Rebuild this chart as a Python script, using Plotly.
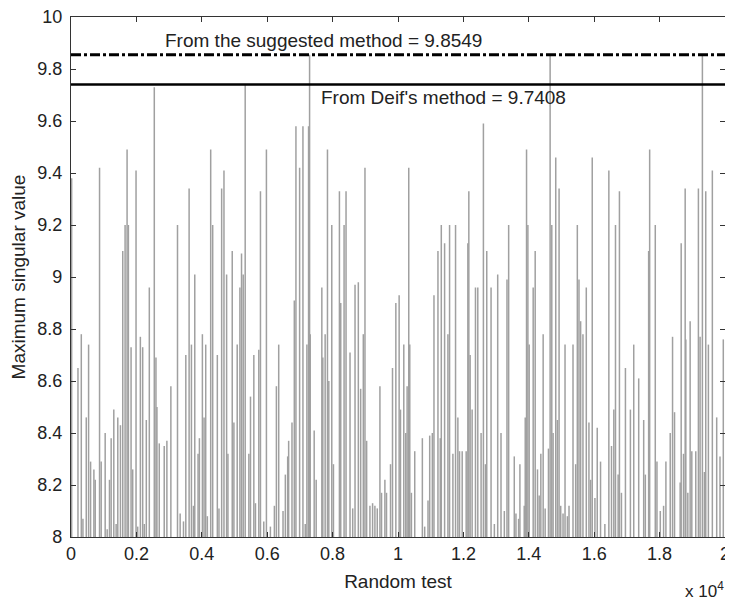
import plotly.graph_objects as go

# Random test index (x) and maximum singular value (y) of the visible spikes
test_index = [
    20, 213, 315, 365, 467, 538, 599, 700, 741, 873, 923, 1045, 1106, 1177, 1228, 1309,
    1380, 1431, 1512, 1583, 1654, 1715, 1755, 1837, 1887, 1989, 2039, 2121, 2192, 2242,
    2303, 2395, 2547, 2598, 2628, 2699, 2851, 2932, 3054, 3257,
    3338, 3440, 3511, 3612, 3683, 3744, 3785, 3886, 3927, 4018, 4069, 4120, 4170, 4272,
    4333, 4475, 4525, 4607, 4678, 4759, 4799, 4931, 4982, 5083, 5165, 5215, 5266, 5327,
    5439, 5489, 5591, 5641, 5743, 5794, 5895, 5976, 6098, 6220, 6281, 6352, 6484, 6555, 6626,
    6656, 6758, 6829, 6879, 6991, 7093, 7163, 7214, 7265, 7296, 7316, 7437, 7498, 7671,
    7701, 7772, 7843, 7884, 7975, 8026, 8209, 8249, 8351, 8411, 8533, 8615, 8686, 8787,
    8858, 8939, 8990, 9041, 9142, 9223, 9294, 9366, 9447, 9497, 9599, 9649, 9771, 9832, 9934,
    10035, 10076, 10177, 10238, 10279, 10329, 10360, 10410, 10512, 10745, 10816, 10918,
    10969, 11050, 11100, 11222, 11293, 11324, 11425, 11527, 11577, 11679, 11760, 11831,
    11882, 11963, 12085, 12136, 12166, 12206, 12267, 12369, 12440, 12541, 12612, 12673,
    12714, 12846, 12947, 13049, 13150, 13252,
    13333, 13384, 13556, 13607, 13688, 13728, 13860, 13891, 13931, 13972, 14012, 14134,
    14195, 14266, 14317, 14368, 14439, 14500, 14601, 14652, 14703, 14743, 14824, 14875,
    14926, 14976, 15047, 15108, 15180, 15230, 15352, 15433, 15484, 15535, 15585, 15656,
    15758, 15839, 15890, 15940, 16022, 16093, 16194, 16326, 16448, 16529, 16600, 16651,
    16732, 16772, 16833, 16955, 17107, 17209, 17361, 17513, 17564, 17665, 17696, 17868,
    17919, 18021, 18122, 18193, 18325, 18396, 18457, 18629, 18660, 18731, 18782, 18802,
    18863, 18934, 18985, 19106, 19187, 19238, 19309, 19370, 19411, 19492, 19613, 19746,
    19847, 19948,
]
max_singular_value = [
    9.38, 8.65, 8.78, 8.07, 8.46, 8.74, 8.29, 8.26, 8.22, 9.42, 8.29, 8.40, 8.03, 8.22, 8.38, 8.49,
    8.05, 8.46, 8.43, 9.10, 9.20, 9.49, 9.20, 8.73, 8.26, 9.41, 8.04, 8.77, 8.73, 8.05,
    8.45, 8.96, 9.73, 8.69, 8.50, 8.36, 8.35, 8.37, 8.58, 9.20,
    8.09, 8.06, 8.70, 9.34, 8.74, 8.12, 9.01, 8.32, 8.38, 8.78, 8.46, 8.74, 8.08, 9.49,
    9.20, 8.70, 8.11, 9.34, 9.41, 9.01, 8.32, 9.10, 8.44, 8.74, 8.96, 9.09, 9.01, 9.74,
    8.32, 8.54, 8.70, 8.13, 8.72, 9.33, 8.06, 9.49, 8.04, 8.12, 8.58, 8.74, 8.10, 8.24, 8.31,
    8.37, 8.44, 8.91, 9.58, 9.42, 9.58, 8.05, 8.74, 9.58, 9.855, 8.78, 8.41, 8.22, 8.96,
    8.69, 8.78, 9.49, 8.60, 9.20, 8.28, 9.33, 8.90, 9.20, 9.33, 8.71, 8.11, 8.97, 8.98,
    8.57, 8.78, 9.42, 8.37, 8.12, 8.13, 8.12, 8.11, 8.58, 8.17, 8.22, 8.17, 8.28, 8.65, 8.90,
    8.93, 8.49, 8.74, 8.40, 8.58, 9.42, 8.74, 8.17, 8.33, 8.38, 8.04, 8.14,
    8.39, 8.40, 8.93, 9.10, 8.38, 9.20, 9.13, 8.78, 9.20, 8.32, 9.20, 8.46,
    8.33, 8.33, 8.33, 9.13, 9.33, 8.70, 8.49, 8.96, 8.96, 8.40, 9.59, 8.28,
    9.10, 8.96, 8.05, 9.01, 8.40, 8.10,
    8.99, 9.20, 8.31, 8.09, 8.07, 8.28, 8.12, 8.46, 9.49, 9.20, 8.74, 8.96,
    9.10, 8.26, 8.16, 8.32, 8.78, 8.11, 8.34, 9.855, 9.20, 8.40, 9.46, 8.45,
    9.34, 8.12, 8.09, 8.74, 8.08, 8.12, 8.74, 8.28, 9.20, 8.99, 8.83, 8.78,
    8.96, 8.44, 8.22, 9.46, 8.15, 8.42, 8.29, 8.05, 9.41, 8.35, 8.49, 9.20,
    8.24, 9.33, 8.17, 8.65, 8.49, 8.74, 8.61, 8.45, 8.24, 9.10, 9.49, 9.20,
    8.29, 8.10, 8.12, 8.29, 8.40, 8.77, 8.48, 8.21, 9.13, 8.32, 9.34, 8.76,
    8.17, 8.83, 8.33, 8.33, 9.34, 8.77, 9.855, 8.25, 9.33, 8.74, 9.41, 8.46,
    8.31, 8.76,
]

suggested_value = 9.8549
deif_value = 9.7408

x_tick_vals = [0, 2000, 4000, 6000, 8000, 10000, 12000, 14000, 16000, 18000, 20000]
x_tick_text = ["0", "0.2", "0.4", "0.6", "0.8", "1", "1.2", "1.4", "1.6", "1.8", "2"]
y_tick_vals = [8, 8.2, 8.4, 8.6, 8.8, 9, 9.2, 9.4, 9.6, 9.8, 10]
y_tick_text = ["8", "8.2", "8.4", "8.6", "8.8", "9", "9.2", "9.4", "9.6", "9.8", "10"]

FONT = "Liberation Sans, Arial, sans-serif"
TXT = "#222"
BASE = 7.9  # below the visible range, the spikes rise from the clipped floor

xs, ys = [], []
for xi, yi in zip(test_index, max_singular_value):
    xs += [xi, xi, None]
    ys += [BASE, yi, None]

fig = go.Figure()
fig.add_trace(go.Scatter(
    x=xs, y=ys, mode="lines",
    line=dict(color="rgb(160,160,160)", width=1.5),
    hoverinfo="skip", showlegend=False,
))
fig.add_trace(go.Scatter(
    x=[0, 20000], y=[suggested_value, suggested_value], mode="lines",
    line=dict(color="black", width=3, dash="10px,3px,3px,3px"),
    showlegend=False,
))
fig.add_trace(go.Scatter(
    x=[0, 20000], y=[deif_value, deif_value], mode="lines",
    line=dict(color="black", width=2.5),
    showlegend=False,
))

fig.add_annotation(
    x=2800, y=9.91, xref="x", yref="y", xanchor="left", yanchor="middle",
    text=f"From the suggested method = {suggested_value}", showarrow=False,
    font=dict(family=FONT, size=19, color=TXT),
)
fig.add_annotation(
    x=7580, y=9.69, xref="x", yref="y", xanchor="left", yanchor="middle",
    text=f"From Deif's method = {deif_value}", showarrow=False,
    font=dict(family=FONT, size=19, color=TXT),
)
fig.add_annotation(
    x=1.0, y=-0.102, xref="paper", yref="paper", xanchor="right", yanchor="middle",
    text="x 10<sup>4</sup>", showarrow=False, borderpad=0,
    font=dict(family=FONT, size=17, color=TXT),
)

axis_common = dict(
    showline=True, linecolor="#333", linewidth=1.3, mirror="ticks",
    ticks="inside", ticklen=5, tickcolor="#333",
    showgrid=False, zeroline=False,
    tickfont=dict(family=FONT, size=18, color=TXT),
    ticklabeloverflow="allow",
    automargin=False,
)
fig.update_xaxes(
    range=[0, 20000], tickvals=x_tick_vals, ticktext=x_tick_text,
    title=dict(text="Random test", font=dict(family=FONT, size=19, color=TXT), standoff=11),
    **axis_common,
)
fig.update_yaxes(
    range=[8, 10], tickvals=y_tick_vals, ticktext=y_tick_text,
    ticklabelstandoff=4,
    title=dict(text="Maximum singular value", font=dict(family=FONT, size=19, color=TXT), standoff=10),
    **axis_common,
)
# the page body adds an 8 px offset, so the figure is sized to fit the 733x600 window
fig.update_layout(
    width=725, height=592,
    margin=dict(l=63, r=8, t=9, b=63, autoexpand=False),
    plot_bgcolor="white", paper_bgcolor="white",
)
fig.write_html("out.html")
